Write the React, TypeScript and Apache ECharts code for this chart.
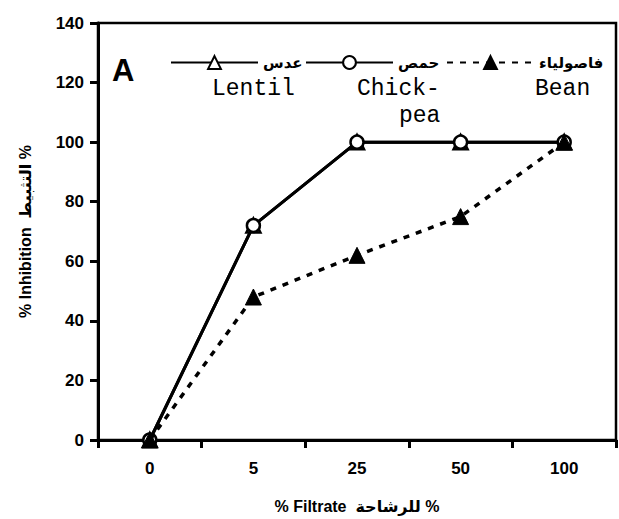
import React, { useEffect, useRef } from "react";
import * as echarts from "echarts";

const categories = ["0", "5", "25", "50", "100"];
const lentil = [0, 72, 100, 100, 100];
const chickpea = [0, 72, 100, 100, 100];
const bean = [0, 48, 62, 75, 100];
const seriesNames = ["عدس", "حمص", "فاصولياء"];
const englishNames = ["Lentil", "Chick-", "pea", "Bean"];
const yTicks = { min: 0, max: 140, interval: 20 };

export default function App() {
  const ref = useRef<HTMLDivElement>(null);
  useEffect(() => {
    if (!ref.current) return;
    const chart = echarts.init(ref.current, null, { renderer: "svg" });
    const black = "#000";
    const legendText = {
      fontFamily: "DejaVu Sans",
      fontWeight: "bold" as const,
      fontSize: 15,
      color: black,
    };
    const legendBase = {
      top: 55,
      itemWidth: 87,
      itemHeight: 16,
      padding: 0,
      itemGap: 0,
      textStyle: legendText,
      selectedMode: false,
    };
    const mono = {
      fontFamily: "Liberation Mono",
      fontSize: 23,
      lineHeight: 23,
      fill: black,
    };
    chart.setOption({
      animation: false,
      backgroundColor: "#fff",
      grid: {
        left: 98,
        top: 23,
        width: 518,
        height: 420,
        show: true,
        borderColor: black,
        borderWidth: 2.5,
        containLabel: false,
      },
      legend: [
        { ...legendBase, left: 170, data: [seriesNames[0]] },
        { ...legendBase, left: 305, data: [seriesNames[1]] },
        { ...legendBase, left: 446, data: [seriesNames[2]] },
      ],
      graphic: [
        {
          type: "text",
          left: 112,
          top: 55,
          style: {
            text: "A",
            fontFamily: "Liberation Sans",
            fontWeight: "bold",
            fontSize: 31,
            fill: black,
          },
        },
        { type: "text", left: 212, top: 77, style: { ...mono, text: englishNames[0] } },
        { type: "text", left: 357, top: 77, style: { ...mono, text: englishNames[1] } },
        { type: "text", left: 399, top: 104, style: { ...mono, text: englishNames[2] } },
        { type: "text", left: 535, top: 77, style: { ...mono, text: englishNames[3] } },
      ],
      xAxis: {
        type: "category",
        data: categories,
        boundaryGap: true,
        axisLine: { lineStyle: { color: black, width: 3 } },
        axisTick: { show: true, length: 8, lineStyle: { color: black, width: 3 } },
        axisLabel: {
          color: black,
          fontFamily: "Liberation Sans",
          fontWeight: "bold",
          fontSize: 17,
          margin: 20,
        },
        name: "% Filtrate  للرشاحة %",
        nameLocation: "middle",
        nameGap: 58,
        nameTextStyle: {
          color: black,
          fontFamily: "Liberation Sans, DejaVu Sans",
          fontWeight: "bold",
          fontSize: 16,
        },
      },
      yAxis: {
        type: "value",
        min: yTicks.min,
        max: yTicks.max,
        interval: yTicks.interval,
        splitLine: { show: false },
        axisLine: { show: true, lineStyle: { color: black, width: 3 } },
        axisTick: { show: true, length: 8, lineStyle: { color: black, width: 3 } },
        axisLabel: {
          color: black,
          fontFamily: "Liberation Sans",
          fontWeight: "bold",
          fontSize: 17,
          margin: 14,
        },
        name: "% Inhibition  التثبيط %",
        nameLocation: "middle",
        nameGap: 65,
        nameTextStyle: {
          color: black,
          fontFamily: "Liberation Sans, DejaVu Sans",
          fontWeight: "bold",
          fontSize: 16,
        },
      },
      series: [
        {
          name: seriesNames[0],
          type: "line",
          data: lentil,
          symbol: "triangle",
          symbolSize: 14,
          itemStyle: { color: "#fff", borderColor: black, borderWidth: 2.5 },
          lineStyle: { color: black, width: 3 },
          z: 2,
        },
        {
          name: seriesNames[1],
          type: "line",
          data: chickpea,
          symbol: "circle",
          symbolSize: 13,
          itemStyle: { color: "#fff", borderColor: black, borderWidth: 2.5 },
          lineStyle: { color: black, width: 3 },
          z: 3,
        },
        {
          name: seriesNames[2],
          type: "line",
          data: bean,
          symbol: "triangle",
          symbolSize: 16,
          itemStyle: { color: black, borderColor: black, borderWidth: 1 },
          lineStyle: { color: black, width: 3.5, type: [6, 7] },
          z: 4,
        },
      ],
    });
    return () => chart.dispose();
  }, []);
  return <div ref={ref} style={{ width: 619, height: 519, position: "absolute", left: 0, top: 0 }} />;
}
